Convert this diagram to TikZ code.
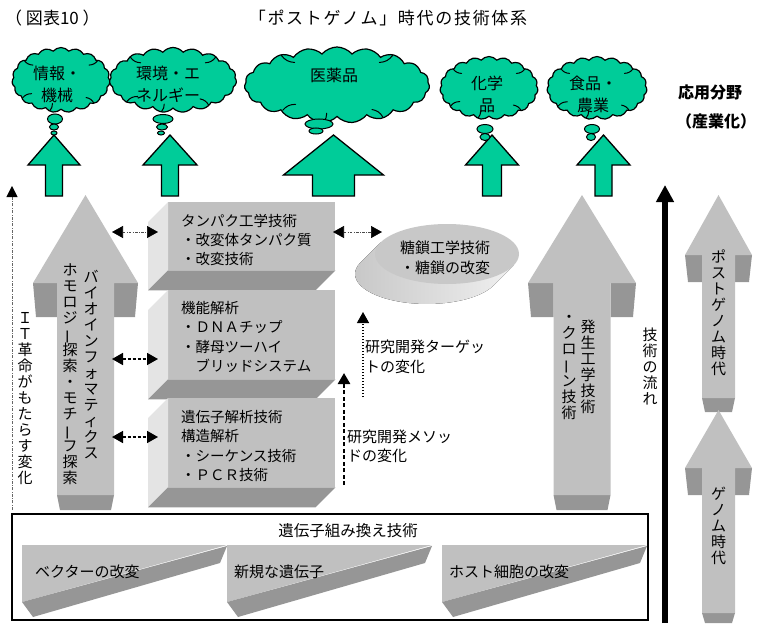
\documentclass[tikz,border=0pt]{standalone}
\usepackage{fontspec}
\setmainfont{Noto Sans CJK JP}
\usepackage{graphicx}
\usetikzlibrary{shapes.symbols,shapes.geometric,arrows.meta,calc}

\definecolor{leaf}{HTML}{00CC99}
\definecolor{face}{HTML}{C0C0C0}
\definecolor{under}{HTML}{969696}
\definecolor{flank}{HTML}{E4E4E4}
\definecolor{disk}{HTML}{C8C8C8}

% vertical writing: one character per line, the long-vowel bar turned upright
\newcommand\tatechar[1]{\ifx ー#1\raisebox{0pt}[.8em][.2em]{\rotatebox[origin=c]{90}{ー}}\else #1\fi}
\newcommand\tate[1]{\tatefirst#1\relax}
\def\tatefirst#1{\tatechar{#1}\tatenext}
\def\tatenext#1{\ifx\relax#1\else\\\tatechar{#1}\expandafter\tatenext\fi}

% extruded grey block arrow:
% centre x, tip y, half head, head base y, half shaft, barb underside y, shaft end y, base underside y
\newcommand\greyarrow[8]{%
  \fill[under] ({#1-#3},#4) -- ({#1-#5},#4) -- ({#1-#5},#6) -- ({#1-#3+3},#6) -- cycle;
  \fill[under] ({#1+#3},#4) -- ({#1+#5},#4) -- ({#1+#5},#6) -- ({#1+#3-3},#6) -- cycle;
  \fill[under] ({#1-#5},#7) -- ({#1+#5},#7) -- ({#1+#5-3},#8) -- ({#1-#5+3},#8) -- cycle;
  \fill[face] (#1,#2) -- ({#1+#3},#4) -- ({#1+#5},#4) -- ({#1+#5},#7) -- ({#1-#5},#7)
    -- ({#1-#5},#4) -- ({#1-#3},#4) -- cycle;}

% green block arrow: centre x, tip y, half head, head base y, half shaft, end y
\newcommand\greenarrow[6]{%
  \filldraw[leafarrow] (#1,#2) -- ({#1+#3},#4) -- ({#1+#5},#4) -- ({#1+#5},#6) -- ({#1-#5},#6)
    -- ({#1-#5},#4) -- ({#1-#3},#4) -- cycle;}

% short creases running in from the rim of a cloud
\newcommand\creases[1]{%
  \foreach \a/\b in {28/25, 152/-25, 205/25, 250/-20, 325/-25}
    \draw[line width=1pt, line cap=round] ($(#1.center)!0.97!(#1.\a)$) to[bend left=\b] ($(#1.center)!0.74!(#1.\a)$);}

% bevelled technology panel: name, top y, bottom y
\newcommand\techbox[3]{%
  \node[fill=face, inner sep=0pt, minimum width=167pt, minimum height={#3-#2}, anchor=north west] (#1) at (168,#2) {};
  \fill[flank] (#1.north west) -- ++(-20,20) -- ($(#1.south west)+(-20,20)$) -- (#1.south west) -- cycle;
  \fill[under] (#1.south west) -- (#1.south east) -- ++(-20,20) -- ($(#1.south west)+(-20,20)$) -- cycle;}

% ramp-shaped prism inside the recombination panel: left x
\newcommand\ramp[1]{%
  \fill[face] (#1,545) -- ({#1+205},545) -- (#1,602) -- cycle;
  \fill[under] (#1,602) -- ({#1+205},546) -- ({#1+198},563) -- ({#1+11},617) -- cycle;}

\begin{document}
\begin{tikzpicture}[x=1pt,y=-1pt,
  cloudbox/.style={cloud, cloud puffs=19, cloud puff arc=100, cloud ignores aspect,
    draw=black, line width=1.2pt, fill=leaf, inner sep=0pt},
  bubble/.style={fill=leaf, draw=black, line width=1pt},
  leafarrow/.style={fill=leaf, draw=black, line width=1.3pt},
  plain/.style={inner sep=0pt, font=\fontsize{15}{21}\selectfont},
  cloudtext/.style={inner sep=0pt, align=center, font=\fontsize{16}{22}\selectfont},
  boxtext/.style={inner sep=0pt, anchor=west, align=left, font=\fontsize{14.5}{19.3}\selectfont},
  tatetext/.style={inner sep=0pt, anchor=north, align=center, font=\fontsize{15}{16}\selectfont},
  linkthin/.style={>={Triangle[length=11pt,width=12pt,color=black]}, <->, line width=.6pt,
    draw=black!70, dash pattern=on 2.5pt off 1.5pt on .6pt off 1.5pt},
  linkthick/.style={>={Triangle[length=11pt,width=12pt,color=black]}, <->, line width=1.6pt,
    dash pattern=on 3pt off 2pt},
  trendarrow/.style={-{Triangle[length=11pt,width=12pt]}, line width=1.3pt, dash pattern=on 1.5pt off 1.5pt},
  methodarrow/.style={-{Triangle[length=11pt,width=12pt]}, line width=2.6pt, dash pattern=on 4pt off 2.5pt},
  itarrow/.style={-{Triangle[length=11pt,width=11pt,color=black]}, line width=.5pt, draw=black!60,
    dash pattern=on 3pt off 1.5pt on .6pt off 1.5pt},
  flowarrow/.style={-{Triangle[length=17pt,width=17pt]}, line width=6pt}
]
\useasboundingbox (0,0) rectangle (762,623);

% headings
\node[plain, font=\fontsize{17}{20}\selectfont, anchor=west] (fig) at (5,18) {（ 図表10 ）};
\node[plain, font=\fontsize{17}{20}\selectfont\addfontfeature{LetterSpace=10}] (title) at (388,18)
  {「ポストゲノム」時代の技術体系};

% application fields
\node[cloudbox, minimum width=98pt,  minimum height=65pt] (c1) at (61,80) {};
\node[cloudbox, minimum width=127pt, minimum height=65pt] (c2) at (173,80) {};
\node[cloudbox, minimum width=185pt, minimum height=76pt] (c3) at (337,85) {};
\node[cloudbox, minimum width=98pt,  minimum height=63pt] (c4) at (489,88) {};
\node[cloudbox, minimum width=100pt, minimum height=63pt] (c5) at (597,88) {};
\creases{c1}
\creases{c2}
\creases{c3}
\creases{c4}
\creases{c5}

\greenarrow{54}{135}{26}{165}{8.5}{196}
\greenarrow{170}{135}{27}{165}{8.5}{196}
\greenarrow{333.5}{135}{50}{175}{21}{196}
\greenarrow{492}{135}{26.5}{165}{9.5}{196}
\greenarrow{603.5}{135}{26.5}{165}{8.5}{196}

\filldraw[bubble] (55,119) ellipse[x radius=7.5, y radius=5];
\filldraw[bubble] (54,127) ellipse[x radius=4.5, y radius=3];
\filldraw[bubble] (54,133) ellipse[x radius=3, y radius=2];
\filldraw[bubble] (163,119) ellipse[x radius=10, y radius=4.5];
\filldraw[bubble] (162,127) ellipse[x radius=5.5, y radius=3];
\filldraw[bubble] (161,133) ellipse[x radius=3.5, y radius=2];
\filldraw[bubble] (319,124) ellipse[x radius=14, y radius=5];
\filldraw[bubble] (316,131) ellipse[x radius=7, y radius=3];
\filldraw[bubble] (485,129) ellipse[x radius=8, y radius=4.5];
\filldraw[bubble] (485,137) ellipse[x radius=5, y radius=3.5];
\filldraw[bubble] (592,129) ellipse[x radius=7.5, y radius=4.5];
\filldraw[bubble] (591,137) ellipse[x radius=4.5, y radius=3.5];

\node[cloudtext] (t1) at (57,84) {情報・\\機械};
\node[cloudtext] (t2) at (168,84) {環境・エ\\ネルギー};
\node[cloudtext] (t3) at (334,75) {医薬品};
\node[cloudtext] (t4) at (487,94) {化学\\品};
\node[cloudtext] (t5) at (593,94) {食品・\\農業};

\node[plain, font=\bfseries\fontsize{16}{19}\selectfont] (field) at (710,92) {応用分野};
\node[plain, font=\bfseries\fontsize{16}{19}\selectfont] (indus) at (716,121) {（産業化）};

% technology streams
\greyarrow{85.5}{195}{52.5}{283}{28.5}{317}{495}{510}
\greyarrow{582}{195}{54}{283}{28.5}{317}{495}{510}
\greyarrow{718.5}{195}{33.5}{255}{16.5}{282}{398}{412}
\greyarrow{718.5}{410}{33.5}{468}{16.5}{495}{613}{623}

\node[tatetext] (bio) at (91,270) {\tate{バイオインフォマティクス}};
\node[tatetext] (homo) at (70,264) {\tate{ホモロジー探索・モチーフ探索}};
\node[tatetext] (dev) at (588,320) {\tate{発生工学技術}};
\node[tatetext] (clone) at (569,315) {\tate{・クローン技術}};
\node[tatetext] (post) at (718.5,250) {\tate{ポストゲノム時代}};
\node[tatetext] (genome) at (718.5,487) {\tate{ゲノム時代}};
\node[tatetext] (flowtxt) at (650,328) {\tate{技術の流れ}};
\node[tatetext] (ittxt) at (25,312) {\tate{ＩＴ革命がもたらす変化}};

% technology panels
\techbox{box1}{202}{270}
\techbox{box2}{290}{379}
\techbox{box3}{398}{487}

\node[boxtext] (box1txt) at (181,240) {タンパク工学技術\\・改変体タンパク質\\・改変技術};
\node[boxtext] (box2txt) at (181,337) {機能解析\\・ＤＮＡチップ\\・酵母ツーハイ\\　ブリッドシステム};
\node[boxtext] (box3txt) at (181,446) {遺伝子解析技術\\構造解析\\・シーケンス技術\\・ＰＣＲ技術};

% sugar-chain disk
\coordinate (gc) at (447,254);
\fill[left color=gray!45, right color=gray!12]
  ($(gc)+(66.5,11.5)$) -- ++(-20,20) arc[start angle=22.6, end angle=202.6, x radius=72, y radius=30]
  -- ($(gc)+(-66.5,-11.5)$) -- cycle;
\node[ellipse, fill=disk, minimum width=144pt, minimum height=60pt, inner sep=0pt] (glyco) at (gc) {};
\node[plain, align=center, font=\fontsize{15}{20}\selectfont] (glytxt) at (445,258) {糖鎖工学技術\\・糖鎖の改変};

% links between streams and panels
\coordinate (l1a) at (112,232); \coordinate (l1b) at (158,232);
\coordinate (l2a) at (333,232); \coordinate (l2b) at (382,232);
\coordinate (l3a) at (112,359); \coordinate (l3b) at (158,359);
\coordinate (l4a) at (112,437); \coordinate (l4b) at (158,437);
\draw[linkthin] (l1a) -- (l1b);
\draw[linkthin] (l2a) -- (l2b);
\draw[linkthick] (l3a) -- (l3b);
\draw[linkthick] (l4a) -- (l4b);

% shifts in research
\coordinate (tg0) at (363,397); \coordinate (tg1) at (363,312);
\coordinate (md0) at (344,485); \coordinate (md1) at (344,373);
\draw[trendarrow] (tg0) -- (tg1);
\draw[methodarrow] (md0) -- (md1);
\node[plain, anchor=west, align=left, font=\fontsize{15}{20}\selectfont] (tgtxt) at (365,357) {研究開発ターゲッ\\トの変化};
\node[plain, anchor=west, align=left, font=\fontsize{15}{19}\selectfont] (mdtxt) at (347,446) {研究開発メソッ\\ドの変化};

% IT revolution and overall flow
\coordinate (it0) at (12,510); \coordinate (it1) at (12,186);
\draw[itarrow] (it0) -- (it1);
\coordinate (fl0) at (665,623); \coordinate (fl1) at (665,185);
\draw[flowarrow] (fl0) -- (fl1);

% recombination panel
\node[draw, line width=1.6pt, minimum width=636pt, minimum height=106pt, inner sep=0pt] (gene) at (330,567) {};
\ramp{22}
\ramp{227}
\ramp{442}
\node[plain, font=\fontsize{15.5}{20}\selectfont] (genetxt) at (348,531) {遺伝子組み換え技術};
\node[plain, anchor=west] (r1) at (35,572) {ベクターの改変};
\node[plain, anchor=west] (r2) at (234,572) {新規な遺伝子};
\node[plain, anchor=west] (r3) at (449,572) {ホスト細胞の改変};
\end{tikzpicture}
\end{document}
